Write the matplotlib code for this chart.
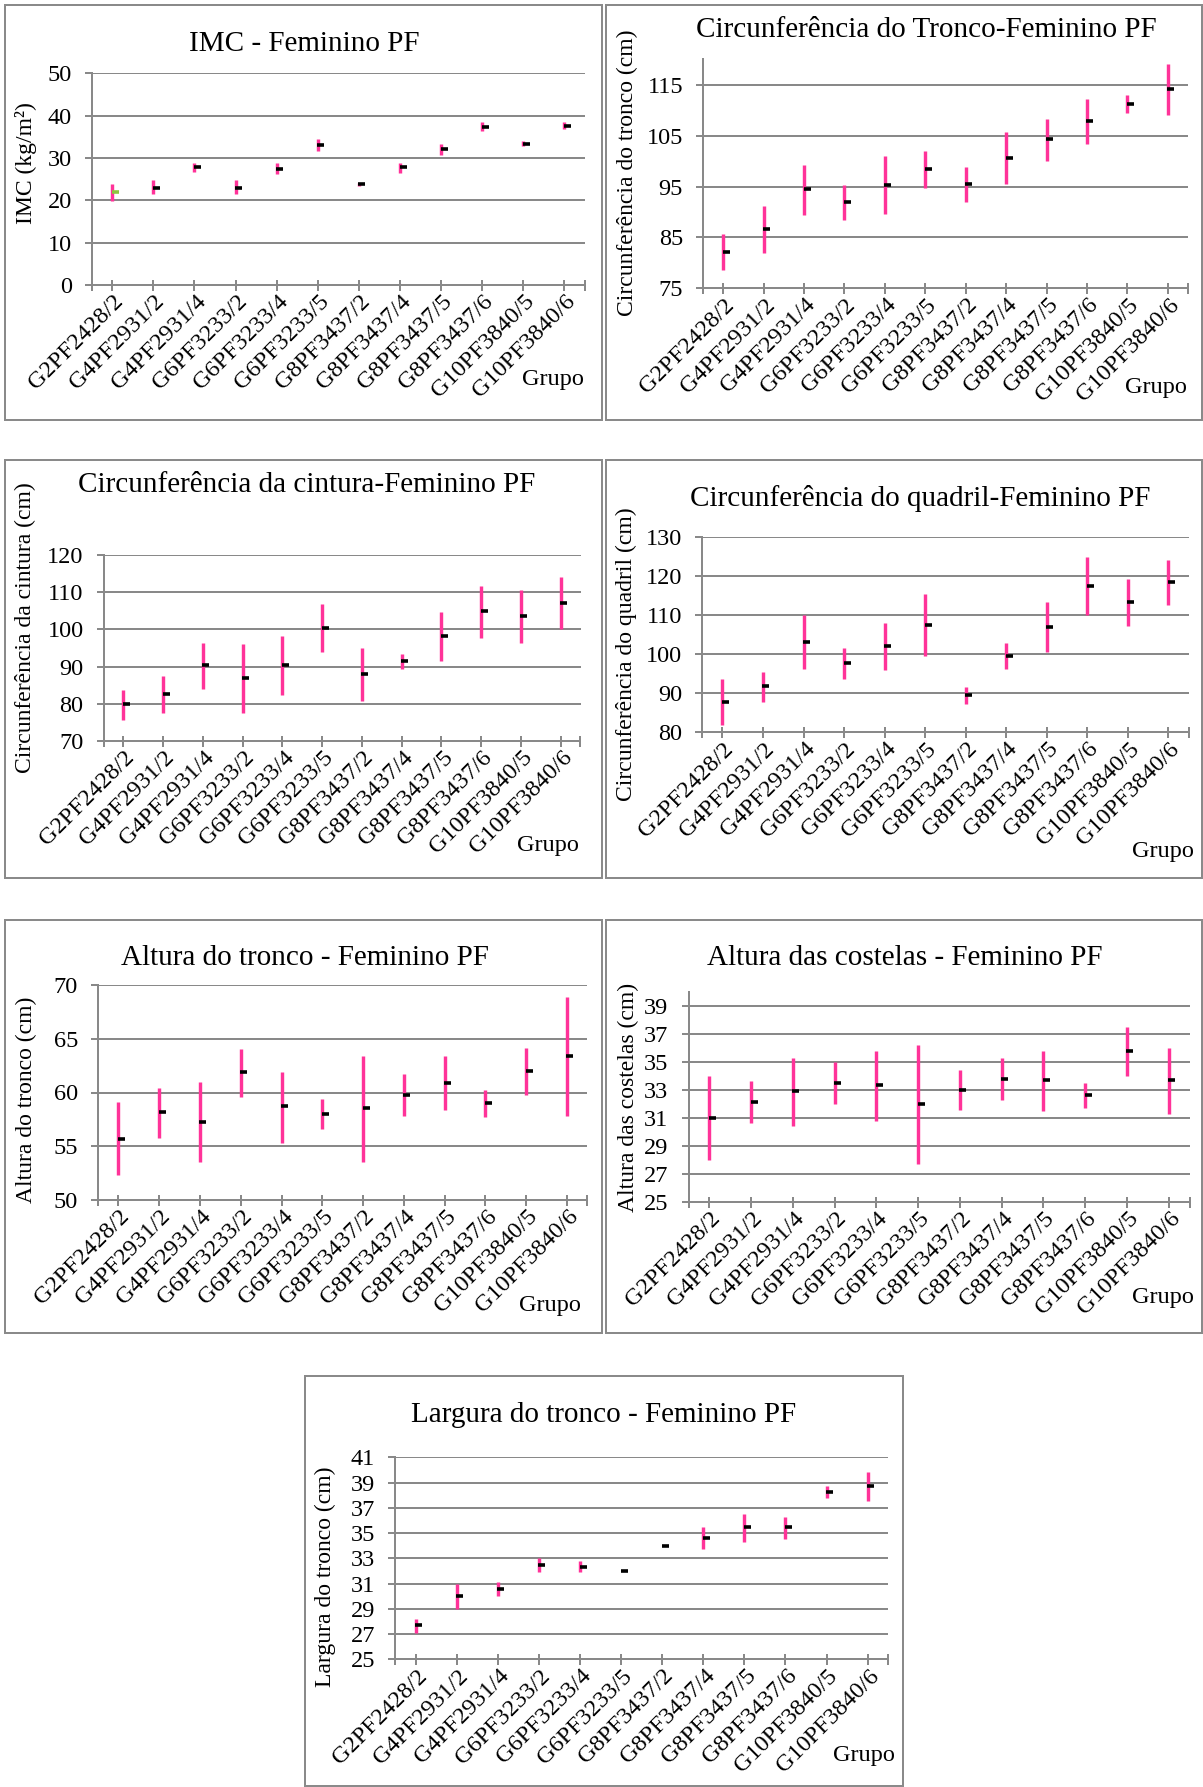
import matplotlib
matplotlib.use("Agg")
import matplotlib.pyplot as plt
import matplotlib.transforms as mtransforms
from matplotlib.patches import Rectangle

# ---------------------------------------------------------------- data
grupos = ["G2PF2428/2", "G4PF2931/2", "G4PF2931/4", "G6PF3233/2",
          "G6PF3233/4", "G6PF3233/5", "G8PF3437/2", "G8PF3437/4",
          "G8PF3437/5", "G8PF3437/6", "G10PF3840/5", "G10PF3840/6"]

imc_media = [22.0, 23.0, 27.9, 23.0, 27.5, 33.1, 23.8, 27.9, 32.1, 37.4, 33.4, 37.6]
imc_min = [19.9, 21.4, 26.7, 21.4, 26.1, 31.6, 23.5, 26.5, 30.8, 36.3, 32.8, 36.8]
imc_max = [23.8, 24.7, 28.9, 24.7, 28.9, 34.5, 24.0, 28.9, 33.4, 38.6, 33.9, 38.4]
imc_ticks = [0, 10, 20, 30, 40, 50]

tronco_media = [82.2, 86.7, 94.5, 91.9, 95.3, 98.5, 95.5, 100.7, 104.3, 107.9, 111.3, 114.1]
tronco_min = [78.5, 82.0, 89.5, 88.4, 89.6, 94.8, 91.9, 95.5, 100.1, 103.4, 109.5, 109.0]
tronco_max = [85.6, 91.1, 99.2, 95.3, 100.9, 102.0, 98.9, 105.7, 108.3, 112.2, 113.0, 119.0]
tronco_ticks = [75, 85, 95, 105, 115]

cintura_media = [79.9, 82.6, 90.3, 87.0, 90.3, 100.5, 87.9, 91.5, 98.2, 104.9, 103.5, 107.0]
cintura_min = [75.6, 77.6, 83.9, 77.6, 82.4, 94.0, 80.8, 89.4, 91.6, 97.8, 96.4, 100.0]
cintura_max = [83.6, 87.4, 96.3, 96.1, 98.2, 106.8, 95.0, 93.5, 104.6, 111.6, 110.5, 114.0]
cintura_ticks = [70, 80, 90, 100, 110, 120]

quadril_media = [87.8, 91.8, 103.2, 97.6, 102.1, 107.5, 89.5, 99.6, 106.9, 117.5, 113.4, 118.4]
quadril_min = [81.9, 87.8, 96.3, 93.7, 95.9, 99.5, 87.2, 96.1, 100.6, 110.0, 107.2, 112.6]
quadril_max = [93.5, 95.4, 110.0, 101.5, 107.9, 115.3, 91.6, 102.9, 113.2, 124.9, 119.2, 124.0]
quadril_ticks = [80, 90, 100, 110, 120, 130]

alt_tronco_media = [55.7, 58.15, 57.3, 61.9, 58.7, 58.0, 58.6, 59.8, 60.9, 59.0, 62.0, 63.4]
alt_tronco_min = [52.3, 55.8, 53.5, 59.6, 55.3, 56.6, 53.5, 57.8, 58.4, 57.75, 59.8, 57.8]
alt_tronco_max = [59.1, 60.4, 61.0, 64.05, 61.9, 59.4, 63.4, 61.7, 63.4, 60.2, 64.1, 68.9]
alt_tronco_ticks = [50, 55, 60, 65, 70]

costelas_media = [31.0, 32.1, 32.9, 33.5, 33.35, 32.0, 33.0, 33.8, 33.7, 32.6, 35.8, 33.7]
costelas_min = [28.0, 30.6, 30.4, 31.95, 30.8, 27.7, 31.55, 32.3, 31.5, 31.7, 34.0, 31.3]
costelas_max = [33.95, 33.6, 35.25, 35.0, 35.8, 36.2, 34.4, 35.3, 35.75, 33.5, 37.45, 35.95]
costelas_ticks = [25, 27, 29, 31, 33, 35, 37, 39]

largura_media = [27.7, 30.0, 30.6, 32.5, 32.3, 32.0, 34.0, 34.6, 35.45, 35.45, 38.25, 38.7]
largura_min = [27.1, 29.0, 30.0, 31.9, 31.9, 32.0, 34.0, 33.7, 34.3, 34.5, 37.75, 37.5]
largura_max = [28.2, 31.0, 31.1, 33.0, 32.8, 32.0, 34.0, 35.5, 36.5, 36.3, 38.75, 39.8]
largura_ticks = [25, 27, 29, 31, 33, 35, 37, 39, 41]

# ---------------------------------------------------------------- style
W, H, DPI = 1203, 1787, 100
PX = 72.0 / DPI            # points per pixel
GRID = "#898989"
FRAME = "#8a8a8a"
BAR = "#ff3399"

plt.rcParams["font.family"] = ["Liberation Serif", "DejaVu Serif"]

fig = plt.figure(figsize=(W / DPI, H / DPI), dpi=DPI)
fig.patch.set_facecolor("white")


def fx(x):
    return x / W


def fy(y):
    return 1 - y / H


def painel(frame, area, ylim, ticks, media, vmin, vmax, titulo, pos_titulo,
           rotulo_y, pos_rotulo_y, pos_grupo, cores_media=None):
    # outer frame around each chart
    x0, y0, x1, y1 = frame
    fig.add_artist(Rectangle((fx(x0), fy(y1)), (x1 - x0) / W, (y1 - y0) / H,
                             transform=fig.transFigure, fill=False,
                             edgecolor=FRAME, lw=2.0 * PX))

    left, right, top, bottom = area
    ax = fig.add_axes([fx(left), fy(bottom), (right - left) / W, (bottom - top) / H])
    ax.set_xlim(-0.5, len(grupos) - 0.5)
    ax.set_ylim(*ylim)

    ax.set_yticks(ticks)
    ax.set_yticklabels([str(t) for t in ticks])
    ax.yaxis.grid(True, color=GRID, lw=2.0 * PX)
    ax.set_axisbelow(True)
    for s in ("top", "right"):
        ax.spines[s].set_visible(False)
    for s in ("left", "bottom"):
        ax.spines[s].set_color(GRID)
        ax.spines[s].set_linewidth(2.0 * PX)

    ax.tick_params(axis="y", direction="out", length=7 * PX, width=2.0 * PX,
                   color=GRID, labelsize=17.5, pad=13 * PX)
    ax.set_xticks(range(len(grupos)))
    ax.set_xticks([-0.5, len(grupos) - 0.5], minor=True)
    ax.tick_params(axis="x", which="both", direction="inout", length=11 * PX,
                   width=2.0 * PX, color=GRID, labelsize=17.5, pad=8 * PX)
    ax.set_xticklabels(grupos, rotation=45, ha="right", va="center",
                       rotation_mode="anchor")
    shift = mtransforms.ScaledTranslation(8 / DPI, 0, fig.dpi_scale_trans)
    for lbl in ax.get_xticklabels():
        lbl.set_transform(lbl.get_transform() + shift)

    xs = list(range(len(grupos)))
    ax.vlines(xs, vmin, vmax, colors=BAR, lw=3.4 * PX, zorder=3)
    off = mtransforms.offset_copy(ax.transData, fig=fig, x=2.5, y=0, units="dots")
    for i, m in enumerate(media):
        cor = cores_media[i] if cores_media else "black"
        ax.plot([xs[i]], [m], linestyle="none", marker="_", ms=7 * PX,
                mew=3.6 * PX, color=cor, transform=off, zorder=4)

    fig.text(fx(pos_titulo[0]), fy(pos_titulo[1]), titulo, ha="center",
             va="center", fontsize=21)
    fig.text(fx(pos_rotulo_y[0]), fy(pos_rotulo_y[1]), rotulo_y, rotation=90,
             ha="center", va="center", fontsize=17)
    fig.text(fx(pos_grupo[0]), fy(pos_grupo[1]), "Grupo", ha="right",
             va="center", fontsize=17.5)
    return ax


cores_imc = ["#8dc63f"] + ["black"] * (len(grupos) - 1)

painel((5, 5, 602, 420), (91.7, 585, 73.3, 285), (0, 50), imc_ticks,
       imc_media, imc_min, imc_max, "IMC - Feminino PF", (304, 44),
       "IMC (kg/m²)", (26, 163), (584, 380), cores_imc)

painel((606, 5, 1202, 420), (703, 1188, 59.3, 288.3), (75, 120), tronco_ticks,
       tronco_media, tronco_min, tronco_max,
       "Circunferência do Tronco-Feminino PF", (926, 30),
       "Circunferência do tronco (cm)", (627, 173), (1187, 387))

painel((5, 460, 602, 878), (103.6, 580.5, 555, 741), (70, 120), cintura_ticks,
       cintura_media, cintura_min, cintura_max,
       "Circunferência da cintura-Feminino PF", (307, 485),
       "Circunferência da cintura (cm)", (25, 628), (579, 845))

painel((606, 460, 1202, 878), (702.2, 1188.5, 536.7, 732.3), (80, 130),
       quadril_ticks, quadril_media, quadril_min, quadril_max,
       "Circunferência do quadril-Feminino PF", (920, 498),
       "Circunferência do quadril (cm)", (626, 654), (1194, 852))

painel((5, 920, 602, 1333), (98.1, 587.2, 985, 1200), (50, 70),
       alt_tronco_ticks, alt_tronco_media, alt_tronco_min, alt_tronco_max,
       "Altura do tronco - Feminino PF", (305, 958),
       "Altura do tronco (cm)", (26, 1100), (581, 1305))

painel((606, 920, 1202, 1333), (688.5, 1189.5, 991.7, 1201.7), (25, 40),
       costelas_ticks, costelas_media, costelas_min, costelas_max,
       "Altura das costelas - Feminino PF", (905, 958),
       "Altura das costelas (cm)", (628, 1097), (1194, 1298))

painel((305, 1376, 903, 1786), (395.2, 888.2, 1457.3, 1659.3), (25, 41),
       largura_ticks, largura_media, largura_min, largura_max,
       "Largura do tronco - Feminino PF", (604, 1415),
       "Largura do tronco (cm)", (325, 1577), (895, 1755))

fig.savefig("out.png", dpi=DPI, facecolor="white")
